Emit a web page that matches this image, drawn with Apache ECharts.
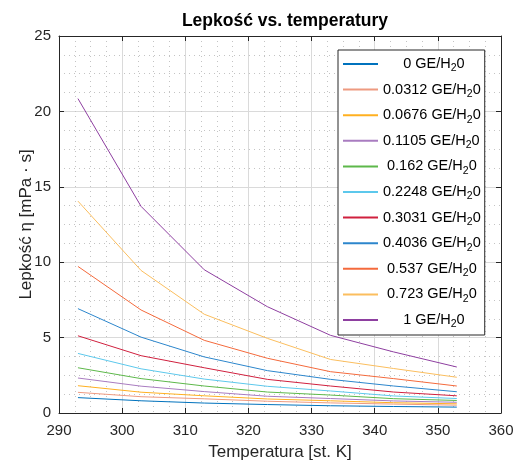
<!DOCTYPE html>
<html>
<head>
<meta charset="utf-8">
<script src="https://cdn.jsdelivr.net/npm/echarts@6/dist/echarts.min.js"></script>
<style>
  html, body { margin: 0; padding: 0; background: #fff; }
  #chart { width: 514px; height: 463px; }
</style>
</head>
<body>
<div id="chart"></div>
<script>
// temperatury [K]
const temps = [293, 303, 313, 323, 333, 343, 353];

// stężenia GE/H2O (nazwy serii)
const concentrations = ['0', '0.0312', '0.0676', '0.1105', '0.162', '0.2248', '0.3031', '0.4036', '0.537', '0.723', '1'];

// lepkość [mPa·s]
const visc0 = [1.02, 0.81, 0.66, 0.56, 0.48, 0.43, 0.39];
const visc0312 = [1.37, 1.08, 0.94, 0.78, 0.67, 0.59, 0.52];
const visc0676 = [1.81, 1.38, 1.14, 0.93, 0.81, 0.68, 0.61];
const visc1105 = [2.32, 1.78, 1.42, 1.11, 0.96, 0.80, 0.71];
const visc162 = [3.0, 2.28, 1.79, 1.39, 1.19, 0.95, 0.83];
const visc2248 = [3.95, 2.93, 2.25, 1.77, 1.46, 1.13, 0.96];
const visc3031 = [5.12, 3.8, 3.0, 2.23, 1.79, 1.39, 1.14];
const visc4036 = [6.92, 5.03, 3.72, 2.81, 2.23, 1.79, 1.41];
const visc537 = [9.72, 6.83, 4.82, 3.63, 2.74, 2.28, 1.79];
const visc723 = [14.05, 9.45, 6.55, 4.95, 3.55, 2.95, 2.37];
const visc1 = [20.85, 13.7, 9.5, 7.05, 5.15, 4.05, 3.05];

const viscosity = [visc0, visc0312, visc0676, visc1105, visc162, visc2248, visc3031, visc4036, visc537, visc723, visc1];

const colors = ['#0072BD', '#EE9A80', '#FFB020', '#A97CC0', '#5DB84A', '#5CC8EC', '#D0203E', '#2C86CC', '#F46A3C', '#FBBE5E', '#8E3FA0'];

const font = 'Liberation Sans, Arial, sans-serif';
const axisColor = '#262626';

const chart = echarts.init(document.getElementById('chart'));

const series = concentrations.map((c, k) => ({
  name: c,
  type: 'line',
  data: temps.map((t, i) => [t, viscosity[k][i]]),
  showSymbol: false,
  symbol: 'none',
  color: colors[k],
  lineStyle: { width: 1, color: colors[k] },
  z: 3
}));

// centrowanie tekstu w legendzie (jak w MATLAB)
const padFor = { 1: '     ', 5: ' ', 6: '' };

chart.setOption({
  animation: false,
  textStyle: { fontFamily: font },
  title: {
    text: 'Lepkość vs. temperatury',
    left: 280,
    textAlign: 'center',
    top: 7,
    textStyle: { fontSize: 17.5, fontWeight: 'bold', color: '#000', fontFamily: font }
  },
  grid: { left: 59, right: 13, top: 36, bottom: 50, outerBoundsMode: 'none', containLabel: false },
  legend: {
    orient: 'vertical',
    left: 338,
    top: 50,
    padding: [4, 4, 5, 5],
    itemWidth: 35,
    itemHeight: 2,
    itemGap: 5.6,
    icon: 'rect',
    backgroundColor: '#fff',
    borderColor: axisColor,
    borderWidth: 1,
    borderRadius: 0,
    data: concentrations,
    formatter: function (name) {
      return (padFor[name.length] || '') + name + ' GE/H{s|2}0';
    },
    textStyle: {
      fontSize: 14.5,
      color: '#000',
      lineHeight: 20,
      fontFamily: font,
      rich: {
        s: { fontSize: 10.5, lineHeight: 20, verticalAlign: 'bottom', fontFamily: font, color: '#000' }
      }
    }
  },
  xAxis: [
    {
      type: 'value',
      min: 290,
      max: 360,
      interval: 10,
      name: 'Temperatura [st. K]',
      nameLocation: 'middle',
      nameGap: 31,
      nameMoveOverlap: false,
      nameTextStyle: { fontSize: 17, color: axisColor, fontFamily: font },
      axisLine: { show: true, onZero: false, lineStyle: { color: axisColor, width: 1 } },
      axisTick: { show: true, inside: true, length: 5, lineStyle: { color: axisColor } },
      axisLabel: { fontSize: 15, color: axisColor, margin: 10, fontFamily: font },
      splitLine: { show: true, lineStyle: { color: '#dadada', width: 1 } },
      minorTick: { show: false, splitNumber: 4 },
      minorSplitLine: { show: true, lineStyle: { color: '#c4c4c4', width: 1, type: [1, 4] } }
    },
    {
      type: 'value',
      position: 'top',
      min: 290,
      max: 360,
      interval: 10,
      axisLine: { show: true, onZero: false, lineStyle: { color: axisColor, width: 1 } },
      axisTick: { show: true, inside: true, length: 5, lineStyle: { color: axisColor } },
      axisLabel: { show: false },
      splitLine: { show: false }
    }
  ],
  yAxis: [
    {
      type: 'value',
      min: 0,
      max: 25,
      interval: 5,
      name: 'Lepkość η [mPa · s]',
      nameLocation: 'middle',
      nameGap: 24,
      nameMoveOverlap: false,
      nameTextStyle: { fontSize: 17, color: axisColor, fontFamily: font },
      axisLine: { show: true, onZero: false, lineStyle: { color: axisColor, width: 1 } },
      axisTick: { show: true, inside: true, length: 5, lineStyle: { color: axisColor } },
      axisLabel: { fontSize: 15, color: axisColor, margin: 8, fontFamily: font },
      splitLine: { show: true, lineStyle: { color: '#dadada', width: 1 } },
      minorTick: { show: false, splitNumber: 4 },
      minorSplitLine: { show: true, lineStyle: { color: '#c4c4c4', width: 1, type: [1, 4] } }
    },
    {
      type: 'value',
      position: 'right',
      min: 0,
      max: 25,
      interval: 5,
      axisLine: { show: true, onZero: false, lineStyle: { color: axisColor, width: 1 } },
      axisTick: { show: true, inside: true, length: 5, lineStyle: { color: axisColor } },
      axisLabel: { show: false },
      splitLine: { show: false }
    }
  ],
  series: series
});
</script>
</body>
</html>
